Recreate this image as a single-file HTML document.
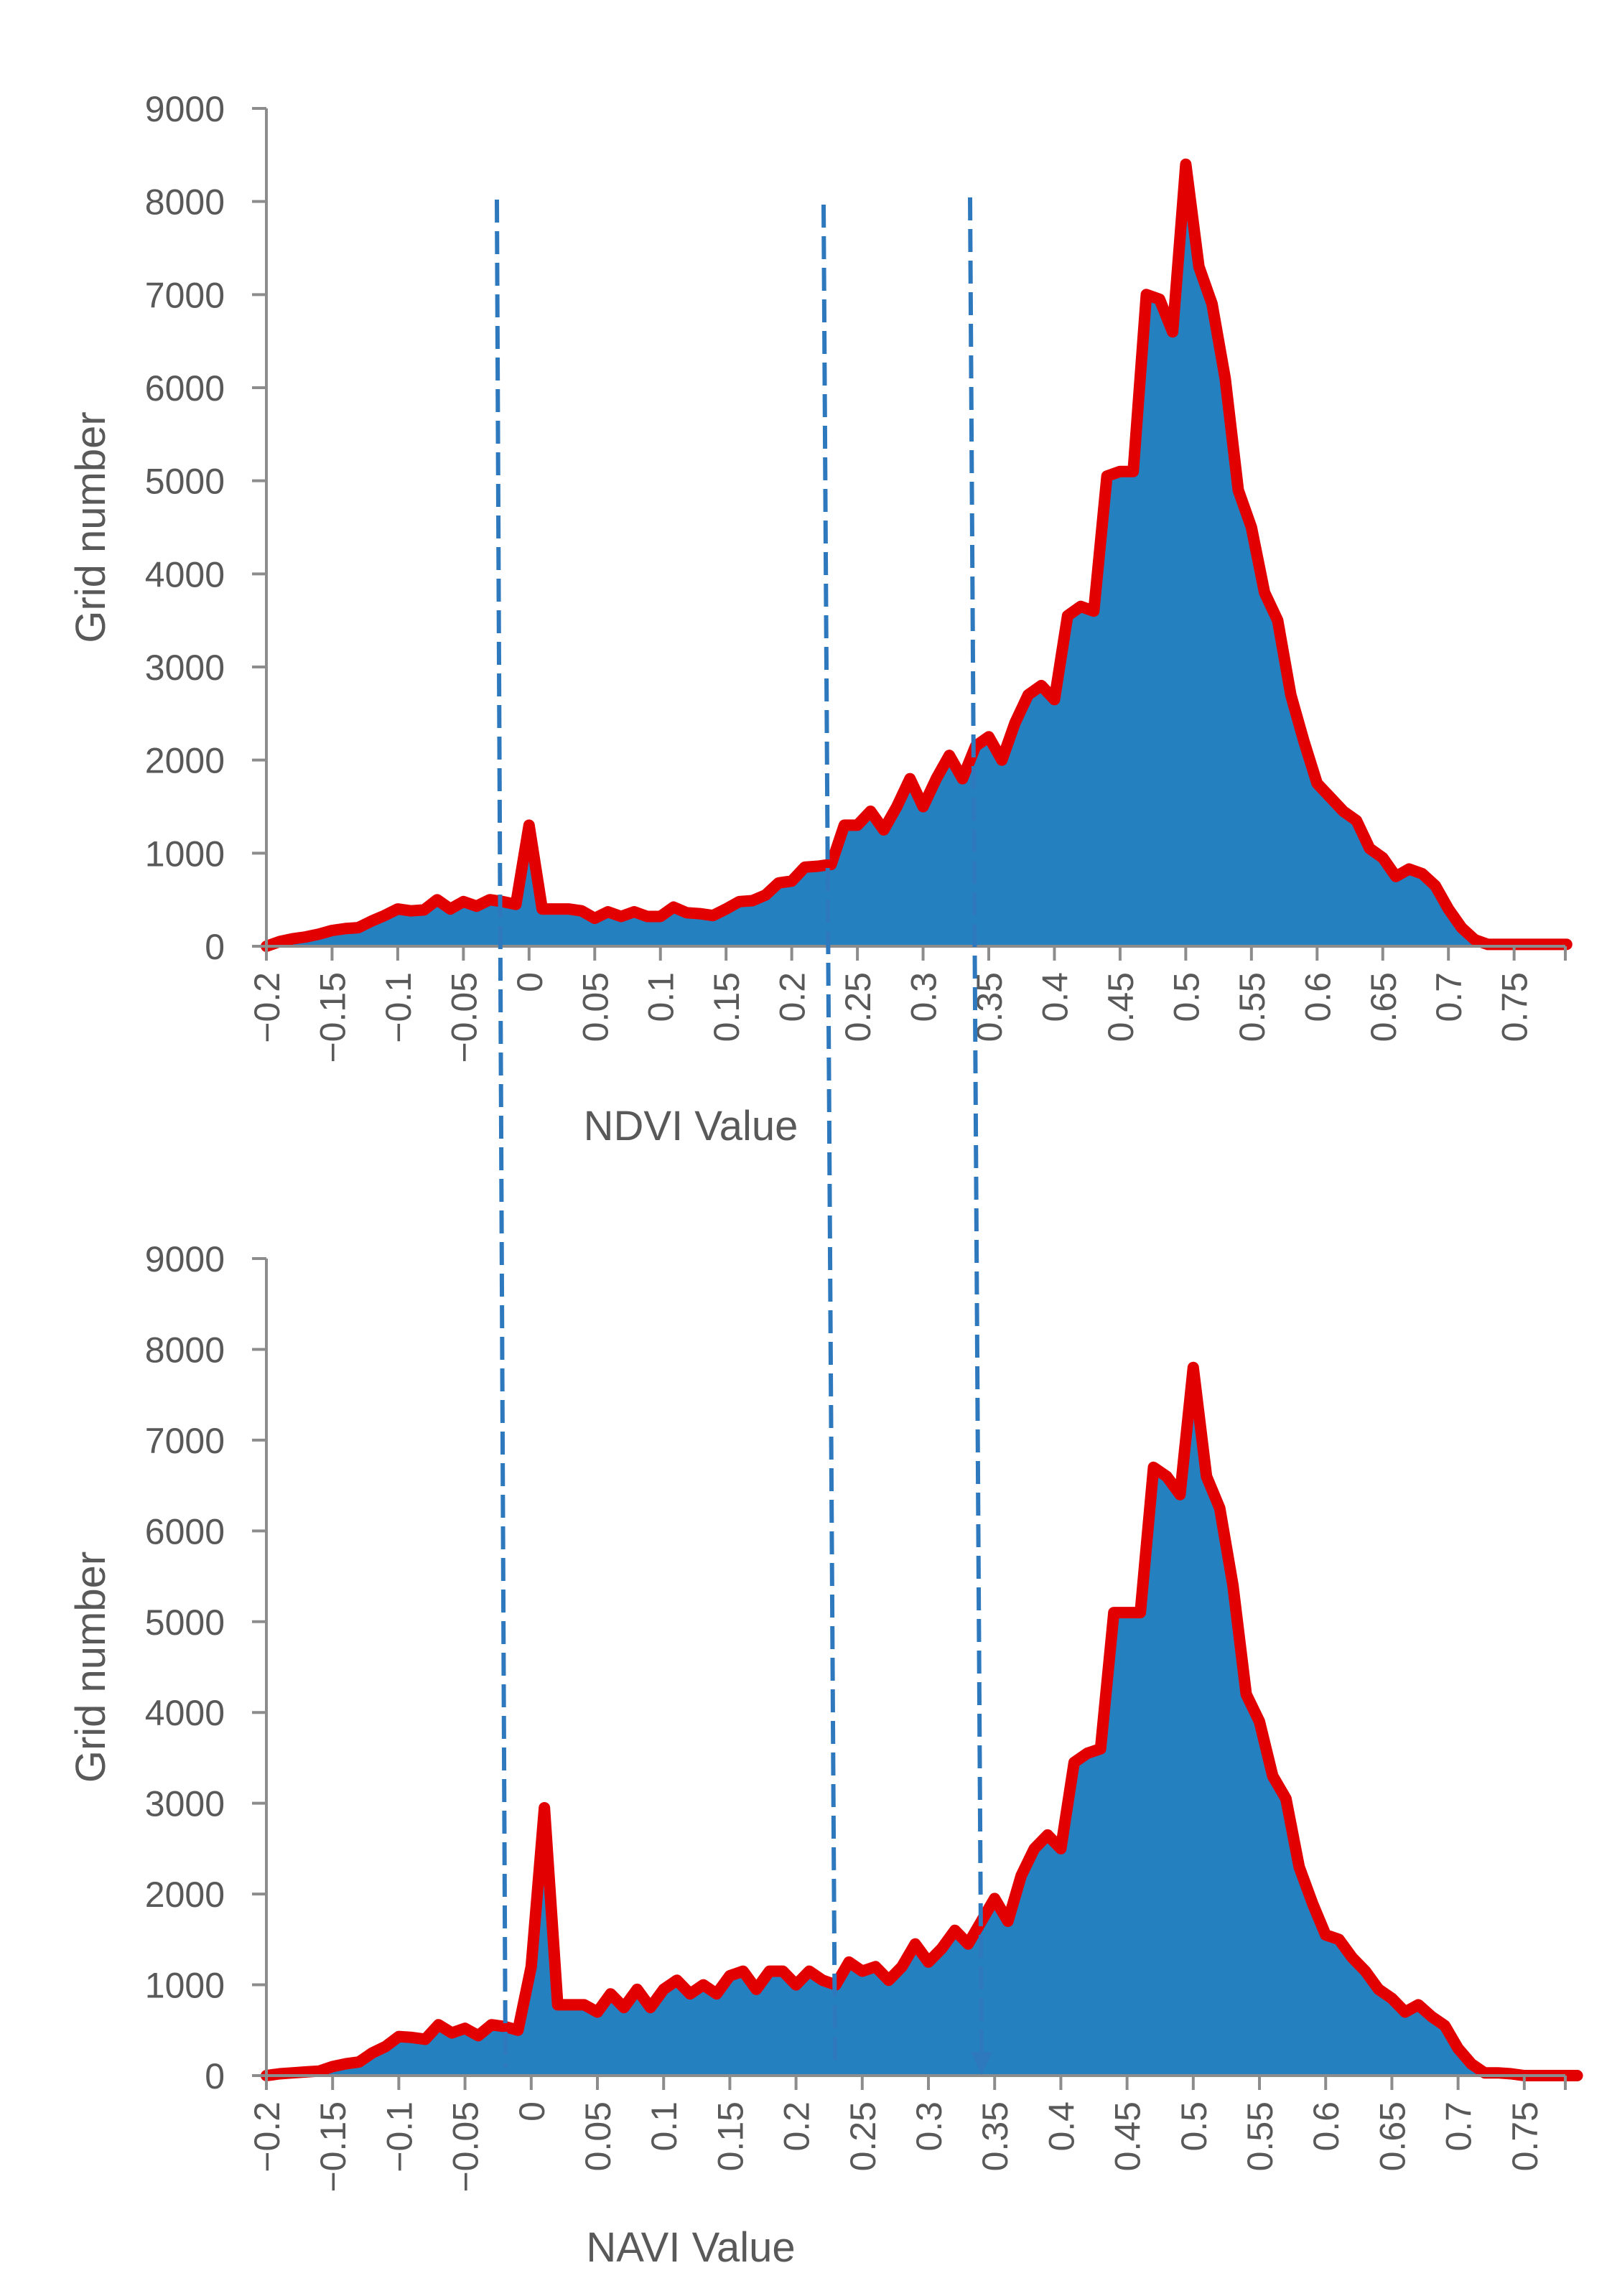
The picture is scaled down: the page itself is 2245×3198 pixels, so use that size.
<!DOCTYPE html>
<html><head><meta charset="utf-8"><style>
html,body{margin:0;padding:0;background:#fff;}
svg{display:block;font-family:"Liberation Sans",sans-serif;}
</style></head><body>
<svg id="c" width="2245" height="3198" viewBox="0 0 2245 3198" xmlns="http://www.w3.org/2000/svg"></svg>
<script>
const categories = [];
for (let i = 0; i <= 99; i++) categories.push(Math.round((-0.2 + i*0.01)*1000)/1000);
const ndviValues = [0,50,80,100,130,170,190,200,270,330,400,380,390,500,400,480,430,500,480,450,
1300,400,400,400,380,300,370,320,370,320,320,420,360,350,330,400,480,490,550,680,
700,850,860,880,1300,1300,1450,1250,1500,1800,1500,1800,2050,1800,2150,2250,2000,2400,2700,2800,
2650,3550,3650,3600,5050,5100,5100,7000,6950,6600,8400,7300,6900,6100,4900,4500,3800,3500,2700,2200,
1750,1600,1450,1350,1050,950,750,830,780,650,400,200,70,20,20,20,20,20,20,20];
const naviValues = [0,20,30,40,50,100,130,150,250,320,430,420,400,560,470,520,440,560,540,500,
1200,2950,780,780,780,700,900,750,950,750,950,1050,900,1000,900,1100,1150,950,1150,1150,
1000,1150,1050,1000,1250,1150,1200,1050,1200,1450,1250,1400,1600,1450,1700,1950,1700,2200,2500,2650,
2500,3450,3550,3600,5100,5100,5100,6700,6600,6400,7800,6600,6250,5400,4200,3900,3300,3050,2300,1900,
1550,1500,1300,1150,950,850,700,780,650,550,300,130,30,30,20,0,0,0,0,0];
const yTicks = [0,1000,2000,3000,4000,5000,6000,7000,8000,9000];
const xTickLabels = ["\u22120.2","\u22120.15","\u22120.1","\u22120.05","0","0.05","0.1","0.15","0.2","0.25","0.3","0.35","0.4","0.45","0.5","0.55","0.6","0.65","0.7","0.75"];
const xTickValues = [-0.2,-0.15,-0.1,-0.05,0,0.05,0.1,0.15,0.2,0.25,0.3,0.35,0.4,0.45,0.5,0.55,0.6,0.65,0.7,0.75];

const NS="http://www.w3.org/2000/svg";
const svg=document.getElementById('c');
function mk(tag,attrs,parent){const e=document.createElementNS(NS,tag);for(const k in attrs)e.setAttribute(k,attrs[k]);(parent||svg).appendChild(e);return e;}

function chart(cfg){
  const g=mk('g',{});
  
  
  const X=v=>cfg.x0+(v-(-0.2))/(cfg.xmax+0.2)*(cfg.x1-cfg.x0);
  const Y=v=>cfg.y0-v/9000*(cfg.y0-cfg.y9);
  let d='M'+X(categories[0])+','+Y(0);
  categories.forEach((c,i)=>{d+=' L'+X(c).toFixed(1)+','+Y(cfg.vals[i]).toFixed(1);});
  let line='M'+X(categories[0])+','+Y(cfg.vals[0]);
  categories.forEach((c,i)=>{line+=' L'+X(c).toFixed(1)+','+Y(cfg.vals[i]).toFixed(1);});
  const area=mk('path',{d:d+' L'+X(categories[categories.length-1])+','+Y(0)+' Z',fill:'#2580C0'},g);
  
  
  const ln=mk('path',{d:line,fill:'none',stroke:'#E30000','stroke-width':16,'stroke-linejoin':'round','stroke-linecap':'round'},g);
  
  
  const ya=mk('line',{x1:cfg.x0,y1:cfg.y9,x2:cfg.x0,y2:cfg.y0,stroke:'#8c8c8c','stroke-width':4},g);
  
  
  const xa=mk('line',{x1:cfg.x0,y1:cfg.y0,x2:cfg.x1,y2:cfg.y0,stroke:'#8c8c8c','stroke-width':4},g);
  
  
  mk('line',{x1:cfg.x1,y1:cfg.y0,x2:cfg.x1,y2:cfg.y0+20,stroke:'#8c8c8c','stroke-width':4},g);
  yTicks.forEach(t=>{
    mk('line',{x1:cfg.x0-20,y1:Y(t),x2:cfg.x0,y2:Y(t),stroke:'#8c8c8c','stroke-width':4},g);
    const tx=mk('text',{x:cfg.x0-58,y:Y(t)+18,'text-anchor':'end','font-size':50,fill:'#595959'},g);
    tx.textContent=t;
    
    
  });
  xTickValues.forEach((t,i)=>{
    const x=X(t);
    mk('line',{x1:x,y1:cfg.y0,x2:x,y2:cfg.y0+20,stroke:'#8c8c8c','stroke-width':4},g);
    const tx=mk('text',{x:0,y:0,'text-anchor':'end','font-size':50,fill:'#595959',transform:`translate(${x+18},${cfg.y0+36}) rotate(-90)`},g);
    tx.textContent=xTickLabels[i];
    
    
  });
  const yt=mk('text',{x:0,y:0,'text-anchor':'middle','font-size':58,fill:'#595959',transform:`translate(146,${(cfg.y0+cfg.y9)/2}) rotate(-90)`},g);
  yt.textContent='Grid number';
  
  
  const xt=mk('text',{x:962,y:cfg.xtY,'text-anchor':'middle','font-size':58,fill:'#595959'},g);
  xt.textContent=cfg.xtitle;
  
  
}
chart({name:'ndvi-chart',vals:ndviValues,x0:371,x1:2180,xmax:0.789,y0:1318,y9:151,xtitle:'NDVI Value',xtY:1588});
chart({name:'navi-chart',vals:naviValues,x0:371,x1:2180,xmax:0.781,y0:2891,y9:1753,xtitle:'NAVI Value',xtY:3150});

const dl=[[692,278,704,2880],[1147,285,1163,2880],[1351,275,1367,2860]];
dl.forEach((p,i)=>{
  const l=mk('line',{x1:p[0],y1:p[1],x2:p[2],y2:p[3],stroke:'#2E78BE','stroke-width':6,'stroke-dasharray':'32 12'});
  
  
});
const ar=mk('polygon',{points:'1352,2858 1382,2858 1367,2890',fill:'#2E78BE'});


</script>
</body></html>
